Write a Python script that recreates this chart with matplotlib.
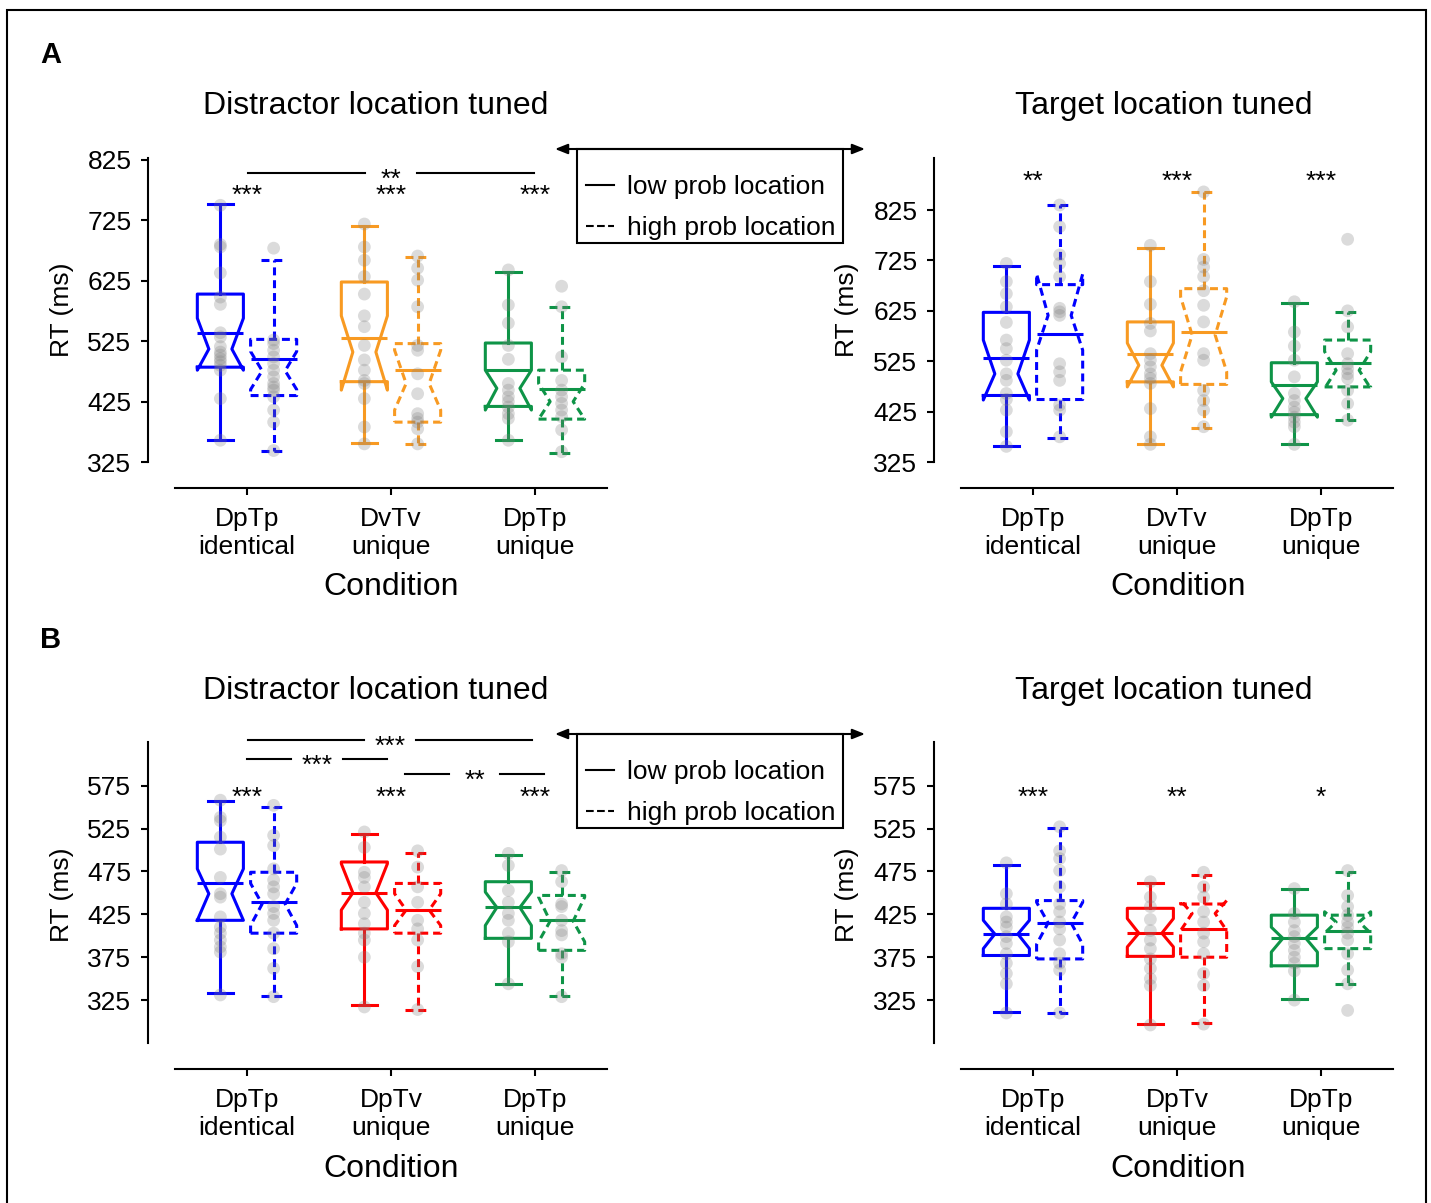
import matplotlib
matplotlib.use('Agg')
import matplotlib.pyplot as plt
from matplotlib.lines import Line2D
from matplotlib.patches import Rectangle, FancyArrowPatch

plt.rcParams['font.family'] = ['Liberation Sans', 'DejaVu Sans']

W, H = 1431, 1203

# box order in every panel:
# cond1 low, cond1 high, cond2 low, cond2 high, cond3 low, cond3 high  (RT in ms)

# A - distractor location tuned
al_whislo = [362, 344, 357, 354, 361, 340]
al_q1 = [482, 435, 458, 391, 417, 396]
al_cilo = [477, 445, 444, 411, 411, 396]
al_med = [512, 476, 507, 455, 447, 425]
al_cihi = [563, 508, 567, 510, 477, 455]
al_q3 = [603, 528, 623, 521, 522, 477]
al_whishi = [752, 660, 715, 665, 640, 581]
al_mean = [539, 495, 531, 478, 478, 446]
al_dots = [
    [750, 685, 681, 638, 598, 586, 539, 532, 516, 507, 502, 496, 491, 485, 477, 430, 361],
    [679, 527, 521, 510, 499, 488, 477, 466, 455, 449, 444, 433, 411, 391, 344],
    [719, 681, 659, 632, 603, 567, 549, 518, 494, 477, 460, 455, 430, 383, 355],
    [666, 646, 626, 582, 518, 510, 471, 438, 405, 397, 391, 380, 355],
    [643, 585, 555, 518, 495, 455, 444, 433, 425, 416, 405, 397, 361],
    [616, 582, 499, 460, 444, 433, 422, 411, 400, 378, 342],
]

# A - target location tuned
ar_whislo = [357, 373, 361, 393, 361, 408]
ar_q1 = [457, 449, 484, 479, 419, 474]
ar_cilo = [448, 547, 474, 504, 414, 471]
ar_med = [500, 616, 517, 577, 451, 507]
ar_cihi = [567, 698, 561, 653, 484, 544]
ar_q3 = [622, 677, 603, 669, 522, 567]
ar_whishi = [714, 835, 750, 861, 640, 623]
ar_mean = [532, 580, 540, 583, 477, 522]
ar_dots = [
    [719, 683, 659, 633, 602, 567, 550, 527, 500, 487, 461, 449, 428, 385, 356],
    [835, 792, 736, 719, 693, 630, 623, 616, 520, 504, 487, 438, 428, 375],
    [755, 683, 638, 600, 585, 540, 527, 514, 500, 491, 481, 431, 375, 360],
    [861, 727, 712, 693, 665, 636, 603, 540, 527, 467, 447, 428, 395],
    [643, 583, 555, 527, 494, 461, 447, 434, 424, 414, 404, 395, 360],
    [767, 625, 593, 540, 520, 510, 500, 491, 467, 441, 408],
]

# B - distractor location tuned
bl_whislo = [333, 330, 319, 313, 344, 330]
bl_q1 = [418, 403, 408, 403, 397, 383]
bl_cilo = [418, 412, 430, 412, 412, 393]
bl_med = [449, 437, 450, 430, 433, 417]
bl_cihi = [478, 461, 484, 449, 451, 445]
bl_q3 = [509, 474, 486, 461, 463, 447]
bl_whishi = [557, 550, 519, 496, 494, 474]
bl_mean = [462, 439, 450, 430, 433, 418]
bl_dots = [
    [558, 538, 534, 515, 501, 468, 449, 445, 422, 410, 403, 395, 387, 381, 331],
    [552, 517, 505, 478, 465, 457, 449, 434, 426, 418, 403, 385, 362, 329],
    [521, 503, 474, 468, 457, 439, 426, 414, 403, 395, 375, 317],
    [499, 480, 457, 439, 418, 408, 395, 364, 314],
    [496, 482, 453, 439, 426, 418, 403, 393, 344],
    [476, 463, 437, 434, 418, 406, 401, 379, 375, 329],
]

# B - target location tuned
br_whislo = [311, 310, 297, 298, 326, 344]
br_q1 = [377, 373, 376, 375, 365, 385]
br_cilo = [385, 390, 387, 406, 381, 403]
br_med = [402, 415, 403, 426, 397, 416]
br_cihi = [418, 439, 420, 441, 410, 428]
br_q3 = [432, 441, 432, 437, 424, 424]
br_whishi = [482, 526, 461, 471, 454, 474]
br_mean = [402, 415, 403, 408, 397, 406]
br_dots = [
    [485, 449, 437, 422, 416, 410, 399, 391, 379, 368, 356, 344, 310],
    [527, 499, 490, 476, 457, 437, 428, 416, 408, 395, 379, 368, 360, 310],
    [463, 445, 434, 419, 406, 395, 385, 373, 362, 350, 342, 296],
    [474, 457, 445, 428, 416, 403, 393, 379, 356, 342, 297],
    [455, 426, 416, 406, 399, 391, 383, 375, 368, 359, 325],
    [476, 447, 434, 424, 416, 410, 403, 395, 379, 360, 344, 313],
]

labels_a = ['DpTp\nidentical', 'DvTv\nunique', 'DpTp\nunique']
labels_b = ['DpTp\nidentical', 'DpTv\nunique', 'DpTp\nunique']

# pairwise significance (low vs high per condition)
stars_al = ['***', '***', '***']
stars_ar = ['**', '***', '***']
stars_bl = ['***', '***', '***']
stars_br = ['***', '**', '*']
# between-condition brackets: (from, to, y, label)
brackets_al = [(0.01, 1.99, 803.5, '**')]
brackets_bl = [(0.01, 1.98, 628.1, '***'), (0.0, 0.97, 606.4, '***'), (1.10, 2.06, 588.1, '**')]

BLUE = '#0000ff'
ORANGE = '#f89a22'
GREEN = '#0e9447'
RED = '#ff0000'


def fx(px):
    return px / W


def fy(py):
    return 1 - py / H


def draw_panel(ax, whislo, q1, cilo, med, cihi, q3, whishi, mean, dots, colors,
               ylim, yticks, xlabels, stars, star_y, brackets, px_per_ms):
    positions = [g + s for g in range(3) for s in (-0.185, 0.185)]
    for i in range(6):
        c = colors[i // 2]
        ls = '-' if i % 2 == 0 else (0, (2.6, 1.6))
        # single subjects
        ax.scatter([positions[i]] * len(dots[i]), dots[i], s=85, color='grey',
                   alpha=0.28, edgecolors='none', zorder=3, clip_on=False)
        st = [dict(whislo=whislo[i], q1=q1[i], cilo=cilo[i], med=med[i], cihi=cihi[i],
                   q3=q3[i], whishi=whishi[i], mean=mean[i], fliers=[])]
        ax.bxp(st, positions=[positions[i]], widths=0.32, capwidths=0.175,
               shownotches=True, showmeans=True, meanline=True, showfliers=False,
               boxprops=dict(color=c, linestyle=ls, linewidth=2.2),
               whiskerprops=dict(color=c, linestyle=ls, linewidth=2.2),
               capprops=dict(color=c, linestyle=ls, linewidth=2.2),
               meanprops=dict(color=c, linestyle='-', linewidth=2.2),
               medianprops=dict(linewidth=0),
               manage_ticks=False, zorder=2)

    ax.set_xlim(-0.5, 2.5)
    ax.set_ylim(*ylim)
    ax.set_yticks(yticks)
    ax.set_xticks([0, 1, 2])
    labs = ax.set_xticklabels(xlabels)
    for lab in labs:
        lab.set_linespacing(1.1)
    ax.tick_params(labelsize=19, width=1.5, length=5)
    ax.tick_params(axis='x', pad=8.5)
    ax.tick_params(axis='y', pad=7)
    for side in ['top', 'right']:
        ax.spines[side].set_visible(False)
    for side in ['left', 'bottom']:
        ax.spines[side].set_linewidth(1.5)
    ax.spines['left'].set_position(('outward', 19.4))
    ax.spines['bottom'].set_position(('outward', 19.0))

    # stars over each pair
    for g, s in enumerate(stars):
        ax.text(g, star_y + 2 / px_per_ms, s, ha='center', va='baseline', fontsize=19, clip_on=False)
    # brackets between conditions
    for x0, x1, y, s in brackets:
        xm = (x0 + x1) / 2
        ax.plot([x0, xm - 0.18], [y, y], color='black', lw=1.5, clip_on=False)
        ax.plot([xm + 0.18, x1], [y, y], color='black', lw=1.5, clip_on=False)
        ax.text(xm, y - 14 / px_per_ms, s, ha='center', va='baseline', fontsize=19, clip_on=False)


fig = plt.figure(figsize=(W / 100, H / 100), dpi=100)

ax_al = fig.add_axes([fx(175), fy(462), (607 - 175) / W, (462 - 158) / H])
ax_ar = fig.add_axes([fx(961), fy(462), (1393 - 961) / W, (462 - 158) / H])
ax_bl = fig.add_axes([fx(175), fy(1043), (607 - 175) / W, (1043 - 741.7) / H])
ax_br = fig.add_axes([fx(961), fy(1043), (1393 - 961) / W, (1043 - 741.7) / H])

ticks_a = [325, 425, 525, 625, 725, 825]
ticks_b = [325, 375, 425, 475, 525, 575]

draw_panel(ax_al, al_whislo, al_q1, al_cilo, al_med, al_cihi, al_q3, al_whishi, al_mean, al_dots,
           [BLUE, ORANGE, GREEN], (325, 828.3), ticks_a, labels_a, stars_al, 750.4, brackets_al, 0.6033)
draw_panel(ax_ar, ar_whislo, ar_q1, ar_cilo, ar_med, ar_cihi, ar_q3, ar_whishi, ar_mean, ar_dots,
           [BLUE, ORANGE, GREEN], (325, 928.3), ticks_a, labels_a, stars_ar, 862.2, [], 0.5033)
draw_panel(ax_bl, bl_whislo, bl_q1, bl_cilo, bl_med, bl_cihi, bl_q3, bl_whishi, bl_mean, bl_dots,
           [BLUE, RED, GREEN], (275, 626.2), ticks_b, labels_b, stars_bl, 550.8, brackets_bl, 0.86)
draw_panel(ax_br, br_whislo, br_q1, br_cilo, br_med, br_cihi, br_q3, br_whishi, br_mean, br_dots,
           [BLUE, RED, GREEN], (275, 626.2), ticks_b, labels_b, stars_br, 550.8, [], 0.86)

# titles, axis labels, panel letters
for top, letter in [(0, 'A'), (585, 'B')]:
    fig.text(fx(40), fy(63 + top), letter, fontsize=21, fontweight='bold', va='baseline')
    fig.text(fx(376), fy(114 + top), 'Distractor location tuned', fontsize=23, ha='center', va='baseline')
    fig.text(fx(1163.5), fy(114 + top), 'Target location tuned', fontsize=23, ha='center', va='baseline')
    for x_lab, x_cond in [(62, 391), (847, 1178.5)]:
        fig.text(fx(x_lab), fy(310 + top), 'RT (ms)', fontsize=19, rotation=90, ha='center', va='center')
        fig.text(fx(x_cond), fy(595 + top - 3 * (top > 0)), 'Condition', fontsize=23, ha='center', va='baseline')

# legend with double arrow between the panels
handles = [Line2D([], [], color='black', lw=1.5, ls='-'),
           Line2D([], [], color='black', lw=1.5, ls='--')]
for top in [0, 585]:
    fig.add_artist(Rectangle((fx(577), fy(243 + top)), (843 - 577) / W, 94 / H, transform=fig.transFigure,
                             fill=False, ec='black', lw=1.5))
    fig.add_artist(FancyArrowPatch((fx(555), fy(149 + top)), (fx(865), fy(149 + top)), transform=fig.transFigure,
                                   arrowstyle='<|-|>,head_length=0.75,head_width=0.3', mutation_scale=10,
                                   shrinkA=0, shrinkB=0, color='black', lw=1.5))
    fig.legend(handles, ['low prob location', 'high prob location'], loc='upper left',
               bbox_to_anchor=(fx(586), fy(175 + top)), borderaxespad=0, borderpad=0, frameon=False,
               fontsize=19, handlelength=1.06, handletextpad=0.49, labelspacing=0.66)

# outer frame
fig.add_artist(Rectangle((fx(7), -0.05), (1426 - 7) / W, fy(10) + 0.05, transform=fig.transFigure,
                         fill=False, ec='black', lw=1.5))

fig.savefig('out.png', dpi=100)
